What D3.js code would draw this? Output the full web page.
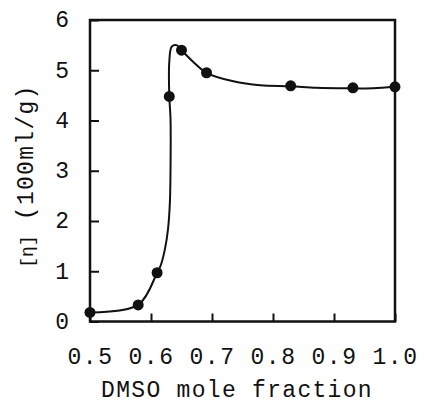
<!DOCTYPE html>
<html><head><meta charset="utf-8">
<script src="https://cdn.jsdelivr.net/npm/d3@7/dist/d3.min.js"></script>
<style>
body{margin:0;background:#fff;}
text{font-family:"Liberation Mono",monospace;fill:#111;}
</style></head><body>
<svg id="c" width="425" height="405"></svg>
<script>
// measured points
const dataX = [0.5, 0.579, 0.610, 0.630, 0.650, 0.691, 0.829, 0.931, 1.0];
const dataY = [0.18, 0.33, 0.97, 4.48, 5.40, 4.95, 4.69, 4.65, 4.67];
// hand-drawn fitted curve, traced
const curveX = [0.5, 0.579, 0.610, 0.616, 0.623, 0.628, 0.631, 0.632, 0.632, 0.630, 0.630, 0.634, 0.642, 0.650, 0.669, 0.691, 0.735, 0.779, 0.829, 0.871, 0.931, 0.964, 1.0];
const curveY = [0.18, 0.33, 0.97, 1.12, 1.45, 1.85, 2.38, 3.04, 4.04, 4.48, 5.17, 5.47, 5.50, 5.40, 5.17, 4.95, 4.78, 4.70, 4.68, 4.65, 4.64, 4.64, 4.67];
const xTicks = [0.5, 0.6, 0.7, 0.8, 0.9, 1.0];
const yTicks = [0, 1, 2, 3, 4, 5, 6];
const xTitle = "DMSO mole fraction";
const yTitleSym = "[\u03b7]";
const yTitleUnit = " (100ml/g)";

const svg = d3.select("#c");
const x = d3.scaleLinear().domain([0.5, 1.0]).range([90, 395]);
const y = d3.scaleLinear().domain([0, 6]).range([321.5, 20]);

// frame
svg.append("rect").attr("x", x(0.5)).attr("y", y(6))
  .attr("width", x(1.0) - x(0.5)).attr("height", y(0) - y(6))
  .attr("fill", "none").attr("stroke", "#111").attr("stroke-width", 2.5);

const gx = svg.append("g").attr("transform", `translate(0,${y(0)})`)
  .call(d3.axisBottom(x).tickValues(xTicks).tickFormat(d3.format(".1f"))
    .tickSizeInner(-8).tickSizeOuter(0).tickPadding(26));
gx.select(".domain").remove();
gx.selectAll("line").attr("stroke", "#111").attr("stroke-width", 2);
gx.selectAll("text").attr("font-size", 23).attr("dy", "0").attr("y", 42).attr("letter-spacing", 1.5);

const gy = svg.append("g").attr("transform", `translate(${x(0.5)},0)`)
  .call(d3.axisLeft(y).tickValues(yTicks).tickFormat(d3.format("d"))
    .tickSizeInner(-9).tickSizeOuter(0).tickPadding(22));
gy.select(".domain").remove();
gy.selectAll("line").attr("stroke", "#111").attr("stroke-width", 2);
gy.selectAll("text").attr("font-size", 23).attr("dy", "0.3em").attr("x", -21);

// curve
const pts = curveX.map((d, i) => [d, curveY[i]]);
svg.append("path").datum(pts)
  .attr("d", d3.line().x(d => x(d[0])).y(d => y(d[1])).curve(d3.curveCatmullRom.alpha(0.5)))
  .attr("fill", "none").attr("stroke", "#111").attr("stroke-width", 2);

// dots
svg.selectAll("circle.pt").data(dataX.map((d, i) => [d, dataY[i]])).enter()
  .append("circle").attr("class", "pt")
  .attr("cx", d => x(d[0])).attr("cy", d => y(d[1])).attr("r", 5.5).attr("fill", "#111");

// titles
svg.append("text").attr("x", 237).attr("y", 397).attr("text-anchor", "middle")
  .attr("font-size", 23).attr("letter-spacing", 1.3).text(xTitle);
const yt = svg.append("text").attr("transform", "translate(33,176) rotate(-90)")
  .attr("text-anchor", "middle");
yt.append("tspan").attr("font-size", 18).text(yTitleSym);
yt.append("tspan").attr("font-size", 23).attr("letter-spacing", 1.3).text(yTitleUnit);
</script></body></html>
